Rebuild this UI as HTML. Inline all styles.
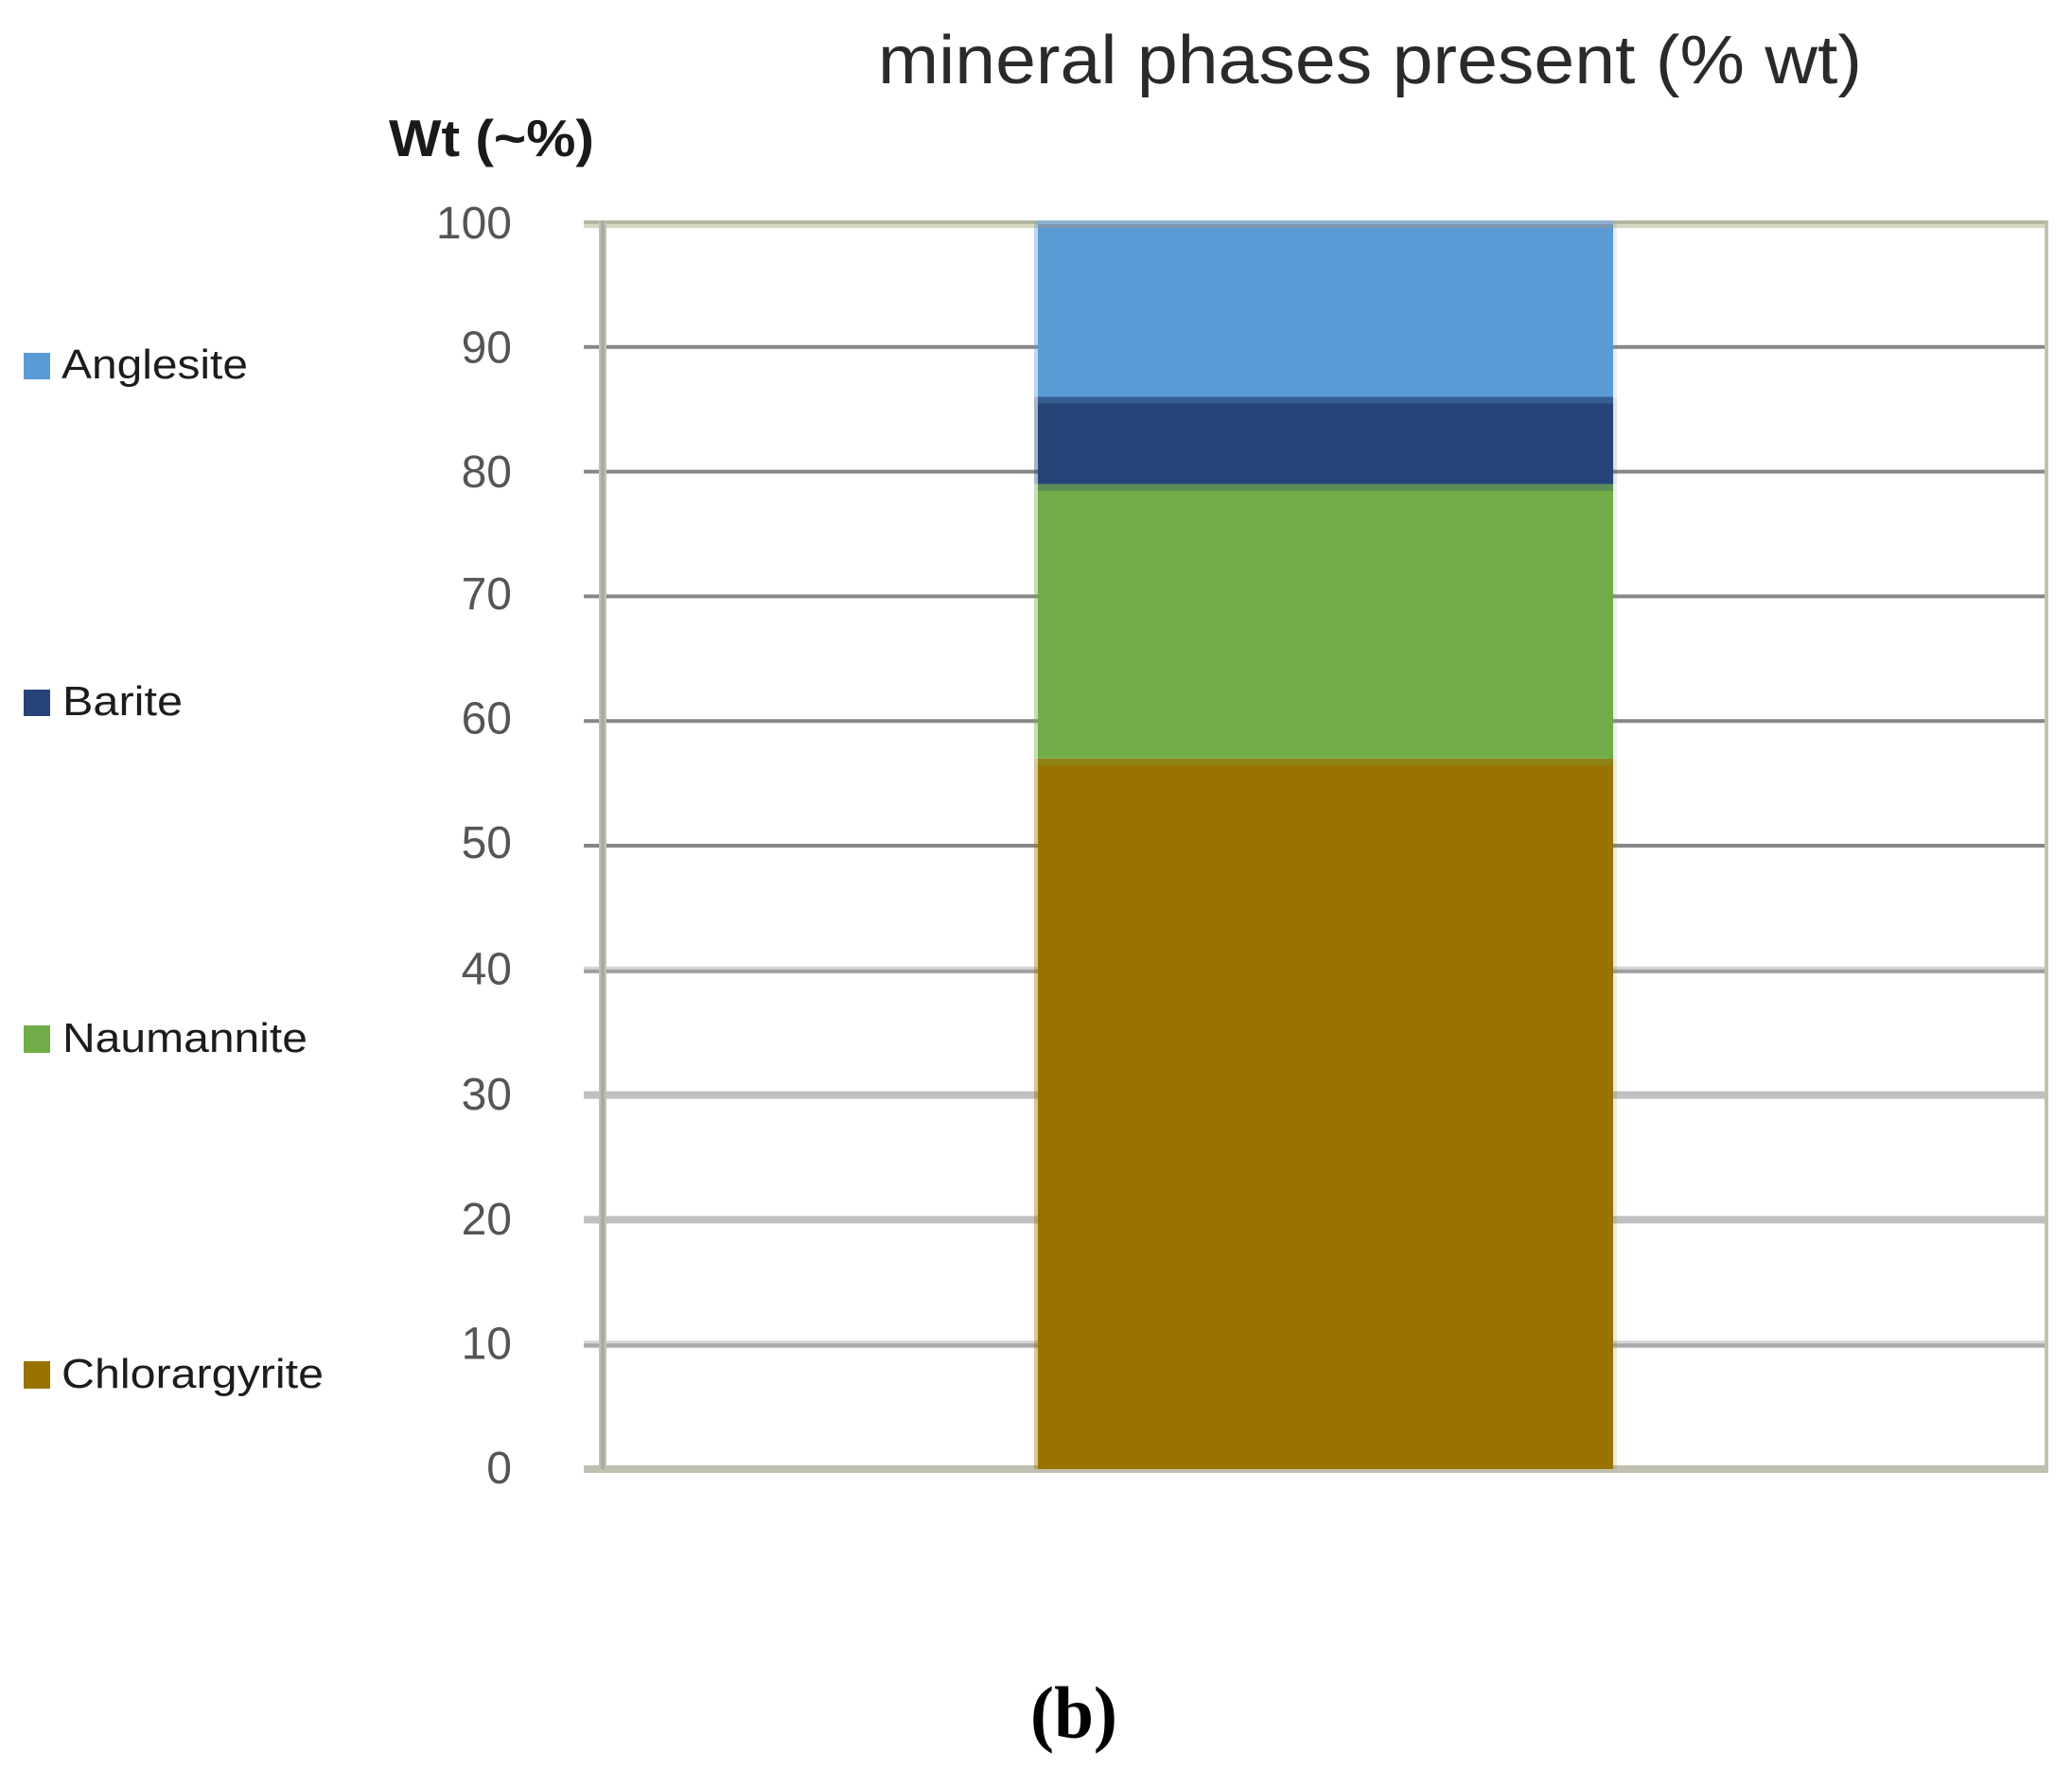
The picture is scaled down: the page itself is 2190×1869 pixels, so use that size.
<!DOCTYPE html>
<html lang="en">
<head>
<meta charset="utf-8">
<title>mineral phases present (% wt)</title>
<style>
html,body{margin:0;padding:0;background:#fff;width:2190px;height:1869px;overflow:hidden}
svg{display:block}
text{font-family:"Liberation Sans",sans-serif}
</style>
</head>
<body>
<svg id="chart" xmlns="http://www.w3.org/2000/svg" width="2190" height="1869" viewBox="0 0 2190 1869">
  <rect x="0" y="0" width="2190" height="1869" fill="#ffffff"/>
  <text x="928" y="88" font-size="72" fill="#2a2a2a" textLength="1040" lengthAdjust="spacingAndGlyphs">mineral phases present (% wt)</text>
  <text x="411" y="165" font-size="55" font-weight="bold" fill="#1a1a1a" textLength="217" lengthAdjust="spacingAndGlyphs">Wt (~%)</text>
  <g id="grid"></g>
  <g id="bars"></g>
  <g id="frame"></g>
  <g id="ticks"></g>
  <g>
    <g>
      <rect x="25" y="373" width="28" height="28" fill="#5b9bd5"/>
      <text x="65" y="400" font-size="44" fill="#1c1c1c" textLength="197" lengthAdjust="spacingAndGlyphs">Anglesite</text>
    </g>
    <g>
      <rect x="25" y="729" width="28" height="28" fill="#264478"/>
      <text x="66" y="756" font-size="44" fill="#1c1c1c" textLength="127" lengthAdjust="spacingAndGlyphs">Barite</text>
    </g>
    <g>
      <rect x="25" y="1084" width="28" height="29" fill="#70ad47"/>
      <text x="66" y="1112" font-size="44" fill="#1c1c1c" textLength="259" lengthAdjust="spacingAndGlyphs">Naumannite</text>
    </g>
    <g>
      <rect x="25" y="1439" width="28" height="29" fill="#997300"/>
      <text x="65" y="1467" font-size="44" fill="#1c1c1c" textLength="277" lengthAdjust="spacingAndGlyphs">Chlorargyrite</text>
    </g>
  </g>
  <text x="1089" y="1837" font-size="78" font-weight="bold" fill="#000000" textLength="92" lengthAdjust="spacingAndGlyphs" style="font-family:'Liberation Serif',serif">(b)</text>
</svg>
<script>
const seriesNames = ["Chlorargyrite", "Naumannite", "Barite", "Anglesite"];
const seriesValues = [57, 22, 7, 14];
const seriesColors = ["#997300", "#70ad47", "#264478", "#5b9bd5"];
const tickValues = [0, 10, 20, 30, 40, 50, 60, 70, 80, 90, 100];

const NS = "http://www.w3.org/2000/svg";
const plotLeft = 617, plotRight = 2165, barLeft = 1097, barRight = 1705;
function yScale(v) { return 1553 - 13.18 * v; }
function labelY(v) {
  const base = 1568 - 13.16 * v;
  if (v >= 50 && v <= 70) return base - 3;
  if (v === 40) return base - 1;
  return base;
}

function makeRect(parent, x, y, w, h, fill, opacity) {
  const r = document.createElementNS(NS, "rect");
  r.setAttribute("x", x);
  r.setAttribute("y", y);
  r.setAttribute("width", w);
  r.setAttribute("height", h);
  r.setAttribute("fill", fill);
  if (opacity !== undefined) r.setAttribute("opacity", opacity);
  parent.appendChild(r);
  return r;
}

function drawGridline(parent, v) {
  const y = yScale(v);
  if (v >= 50) return [makeRect(parent, plotLeft, y - 2, plotRight - plotLeft - 4, 4, "#878787")];
  if (v === 40) return [
    makeRect(parent, plotLeft, y - 4, plotRight - plotLeft - 4, 7, "#d4d4d4"),
    makeRect(parent, plotLeft, y - 1, plotRight - plotLeft - 4, 4, "#a0a0a0")
  ];
  if (v === 10) return [
    makeRect(parent, plotLeft, y - 4, plotRight - plotLeft - 4, 8, "#d6d6d6"),
    makeRect(parent, plotLeft, y - 1, plotRight - plotLeft - 4, 4, "#a8a8a8")
  ];
  return [makeRect(parent, plotLeft, y - 4, plotRight - plotLeft - 4, 8, "#c0c0c0")];
}

const gridG = document.getElementById("grid");
const ticksG = document.getElementById("ticks");
tickValues.forEach(function (v) {
  if (v > 0 && v < 100) {
    drawGridline(gridG, v).forEach(function (el) {
      
      
    });
  }
  const t = document.createElementNS(NS, "text");
  
  
  t.setAttribute("x", 541);
  t.setAttribute("y", labelY(v));
  t.setAttribute("font-size", 48);
  t.setAttribute("text-anchor", "end");
  t.setAttribute("fill", "#555555");
  t.textContent = String(v);
  ticksG.appendChild(t);
});

const frameG = document.getElementById("frame");
const barsG = document.getElementById("bars");
const topY = yScale(100), bottomY = yScale(0);

const frameTopDark = makeRect(gridG, plotLeft, topY - 2, plotRight - plotLeft, 4, "#b6b6a0");


const frameTopLight = makeRect(gridG, plotLeft, topY + 2, plotRight - plotLeft, 4, "#d8d8c0");


const frameBottom = makeRect(gridG, plotLeft, bottomY - 4, plotRight - plotLeft, 8, "#c0c0b0");



let cum = 0;
seriesValues.forEach(function (val, i) {
  const yTop = yScale(cum + val), yBot = yScale(cum);
  const seg = makeRect(barsG, barLeft, yTop, barRight - barLeft, yBot - yTop, seriesColors[i]);
  
  
  const leftEdge = makeRect(barsG, barLeft - 4, yTop, 4, yBot - yTop, seriesColors[i], 0.4);
  
  
  const rightEdge = makeRect(barsG, barRight, yTop, 4, yBot - yTop, seriesColors[i], 0.15);
  
  
  if (i < seriesValues.length - 1) {
    const seam = makeRect(barsG, barLeft, yTop, barRight - barLeft, 7, seriesColors[i + 1], 0.3);
    
    
  }
  cum += val;
});

const barTopEdge = makeRect(barsG, barLeft, topY - 2, barRight - barLeft, 4, "#8db0d0");


const barTopEdge2 = makeRect(barsG, barLeft, topY + 2, barRight - barLeft, 4, "#7e97b2");



const axisOuter = makeRect(frameG, 633, topY - 2, 8, bottomY - topY + 2, "#c0c0b8");


const axisInner = makeRect(frameG, 635, topY - 2, 4, bottomY - topY + 2, "#ababa5");


const rightBorder = makeRect(frameG, plotRight - 4, topY - 2, 4, bottomY - topY + 6, "#c2c2ac");


</script>
</body>
</html>
